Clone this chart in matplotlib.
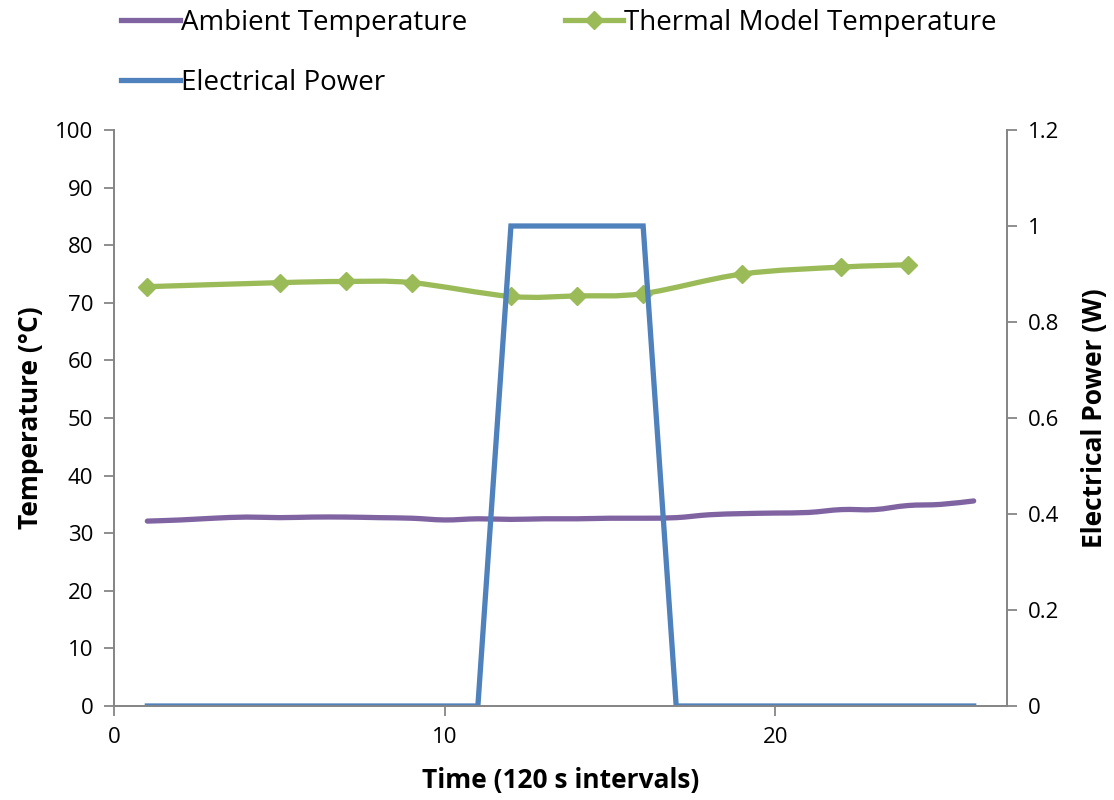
import numpy as np
import matplotlib.pyplot as plt
from matplotlib.path import Path
from matplotlib.patches import PathPatch
from matplotlib.lines import Line2D

plt.rcParams['font.family'] = ['Open Sans', 'DejaVu Sans']

# dados
t_amb = list(range(1, 27))
amb = [32.1, 32.3, 32.6, 32.8, 32.7, 32.8, 32.8, 32.7, 32.6, 32.3,
       32.5, 32.4, 32.5, 32.5, 32.6, 32.6, 32.7, 33.2, 33.4, 33.5,
       33.6, 34.1, 34.1, 34.8, 35.0, 35.6]

t_mod = [1, 5, 7, 9, 12, 14, 16, 19, 22, 24]
mod = [72.8, 73.5, 73.7, 73.5, 71.1, 71.2, 71.6, 75.0, 76.2, 76.6]

t_pow = list(range(1, 27))
power = [0] * 11 + [1] * 5 + [0] * 10

c_amb = '#8064A2'
c_mod = '#9BBB59'
c_pow = '#4F81BD'
c_axis = '#868686'


# curva suavizada (estilo Excel) passando pelos pontos
def smooth_path(x, y):
    x = np.asarray(x, float)
    y = np.asarray(y, float)
    n = len(x)
    verts = [(x[0], y[0])]
    codes = [Path.MOVETO]
    for i in range(n - 1):
        p0 = np.array([x[max(i - 1, 0)], y[max(i - 1, 0)]])
        p1 = np.array([x[i], y[i]])
        p2 = np.array([x[i + 1], y[i + 1]])
        p3 = np.array([x[min(i + 2, n - 1)], y[min(i + 2, n - 1)]])
        c1 = p1 + (p2 - p0) / 6
        c2 = p2 - (p3 - p1) / 6
        verts += [tuple(c1), tuple(c2), tuple(p2)]
        codes += [Path.CURVE4] * 3
    return Path(verts, codes)


fig = plt.figure(figsize=(11.14, 8), dpi=100)
ax = fig.add_axes([0.1026, 0.1175, 0.8011, 0.72])
ax2 = ax.twinx()

lw = 3.8
ax.add_patch(PathPatch(smooth_path(t_amb, amb), fill=False, edgecolor=c_amb,
                       lw=lw, capstyle='round', joinstyle='round'))
ax.add_patch(PathPatch(smooth_path(t_mod, mod), fill=False, edgecolor=c_mod,
                       lw=lw, capstyle='round', joinstyle='round'))
ax.plot(t_mod, mod, ls='none', marker='D', ms=9, color=c_mod)

ax2.plot(t_pow, power, color=c_pow, lw=lw, solid_joinstyle='miter')

ax.set_xlim(0, 27)
ax.set_ylim(0, 100)
ax2.set_ylim(0, 1.2)
ax.set_xticks([0, 10, 20])
ax.set_yticks(range(0, 101, 10))
ax2.set_yticks([0, 0.2, 0.4, 0.6, 0.8, 1.0, 1.2])
ax2.set_yticklabels(['0', '0.2', '0.4', '0.6', '0.8', '1', '1.2'])

for a in (ax, ax2):
    for s in a.spines.values():
        s.set_color(c_axis)
        s.set_linewidth(1.3)
    a.spines['top'].set_visible(False)
    a.tick_params(colors=c_axis, labelcolor='black', labelsize=16,
                  length=7, width=1.3, pad=8)

ax.set_xlabel('Time (120 s intervals)', fontsize=19, fontweight='bold', labelpad=14)
ax.set_ylabel('Temperature (°C)', fontsize=19, fontweight='bold', labelpad=8)
ax2.set_ylabel('Electrical Power (W)', fontsize=19, fontweight='bold', labelpad=16)

handles = [Line2D([], [], color=c_amb, lw=lw),
           Line2D([], [], color=c_pow, lw=lw),
           Line2D([], [], color=c_mod, lw=lw, marker='D', ms=9)]
labels = ['Ambient Temperature', 'Electrical Power', 'Thermal Model Temperature']
fig.legend(handles, labels, ncol=2, loc='upper left', bbox_to_anchor=(0.099, 1.003),
           frameon=False, fontsize=20, handlelength=2.1, handletextpad=0.05,
           columnspacing=3.5, labelspacing=1.15, borderaxespad=0)

fig.savefig('out.png', dpi=100)
